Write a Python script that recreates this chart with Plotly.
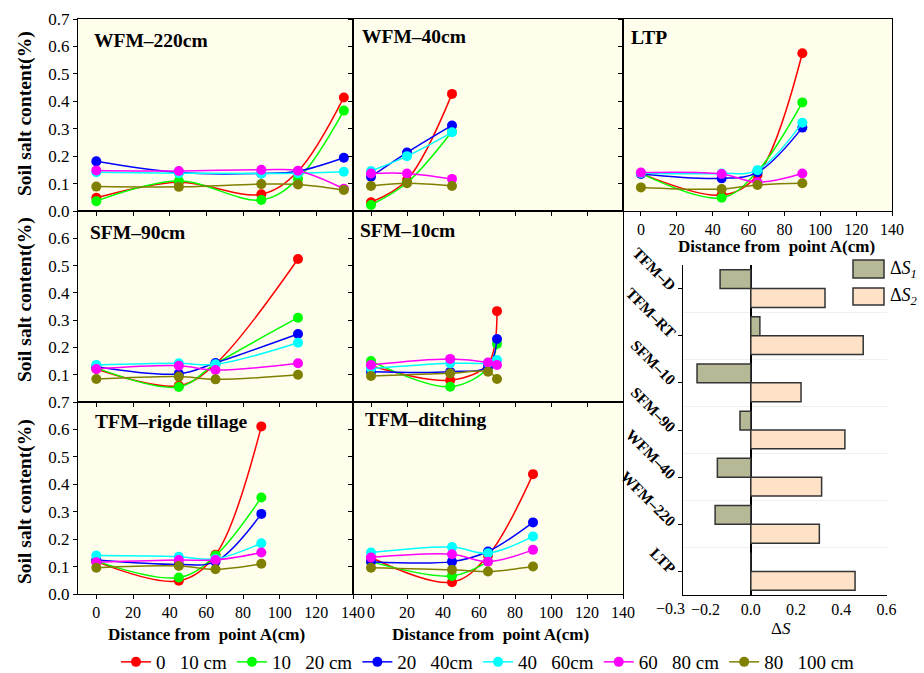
import plotly.graph_objects as go

FONT = "Liberation Serif"
W, H = 924, 673

# ---------------- data ----------------
depth_labels = ["0\u00a0\u00a0\u00a010 cm", "10\u00a0\u00a0\u00a020 cm", "20\u00a0\u00a0\u00a040cm",
                "40\u00a0\u00a0\u00a060cm", "60\u00a0\u00a0\u00a080 cm", "80\u00a0\u00a0\u00a0100 cm"]
depth_colors = ["#ff0000", "#00ff00", "#0000ff", "#00ffff", "#ff00ff", "#808000"]

wfm220_x = [0, 45, 90, 110, 135]
wfm220_d0 = [0.048, 0.105, 0.061, 0.145, 0.414]
wfm220_d1 = [0.036, 0.109, 0.040, 0.117, 0.366]
wfm220_d2 = [0.181, 0.140, 0.137, 0.145, 0.194]
wfm220_d3 = [0.141, 0.138, 0.137, 0.138, 0.143]
wfm220_d4 = [0.148, 0.146, 0.150, 0.147, 0.081]
wfm220_d5 = [0.089, 0.088, 0.098, 0.097, 0.077]

wfm40_x = [0, 20, 45]
wfm40_d0 = [0.032, 0.113, 0.427]
wfm40_d1 = [0.022, 0.103, 0.290]
wfm40_d2 = [0.125, 0.213, 0.312]
wfm40_d3 = [0.146, 0.200, 0.287]
wfm40_d4 = [0.137, 0.137, 0.117]
wfm40_d5 = [0.091, 0.101, 0.091]

ltp_x = [0, 45, 65, 90]
ltp_d0 = [0.137, 0.058, 0.131, 0.575]
ltp_d1 = [0.137, 0.048, 0.145, 0.396]
ltp_d2 = [0.135, 0.119, 0.141, 0.304]
ltp_d3 = [0.138, 0.137, 0.149, 0.322]
ltp_d4 = [0.140, 0.135, 0.105, 0.137]
ltp_d5 = [0.086, 0.080, 0.095, 0.101]

sfm90_x = [0, 45, 65, 110]
sfm90_d0 = [0.121, 0.060, 0.140, 0.524]
sfm90_d1 = [0.125, 0.055, 0.140, 0.309]
sfm90_d2 = [0.129, 0.103, 0.143, 0.249]
sfm90_d3 = [0.136, 0.142, 0.138, 0.217]
sfm90_d4 = [0.121, 0.133, 0.117, 0.142]
sfm90_d5 = [0.084, 0.093, 0.083, 0.100]

sfm10_x = [0, 44, 65, 70]
sfm10_d0 = [0.133, 0.080, 0.140, 0.333]
sfm10_d1 = [0.150, 0.056, 0.125, 0.213]
sfm10_d2 = [0.111, 0.111, 0.130, 0.231]
sfm10_d3 = [0.123, 0.142, 0.143, 0.154]
sfm10_d4 = [0.136, 0.158, 0.145, 0.136]
sfm10_d5 = [0.095, 0.105, 0.111, 0.084]

tfmrt_x = [0, 45, 65, 90]
tfmrt_d0 = [0.118, 0.048, 0.143, 0.611]
tfmrt_d1 = [0.120, 0.060, 0.140, 0.352]
tfmrt_d2 = [0.124, 0.108, 0.118, 0.292]
tfmrt_d3 = [0.140, 0.136, 0.128, 0.185]
tfmrt_d4 = [0.116, 0.124, 0.124, 0.151]
tfmrt_d5 = [0.096, 0.102, 0.090, 0.110]

tfmd_x = [0, 45, 65, 90]
tfmd_d0 = [0.133, 0.043, 0.140, 0.437]
tfmd_d1 = [0.118, 0.066, 0.118, None]
tfmd_d2 = [0.118, 0.118, 0.155, 0.261]
tfmd_d3 = [0.151, 0.171, 0.149, 0.210]
tfmd_d4 = [0.133, 0.145, 0.118, 0.161]
tfmd_d5 = [0.096, 0.088, 0.082, 0.100]

bar_categories = ["LTP", "WFM\u2013220", "WFM\u201340", "SFM\u201390", "SFM\u201310", "TFM\u2013RT", "TFM\u2013D"]
delta_s1 = [0.0, -0.158, -0.148, -0.048, -0.238, 0.040, -0.136]
delta_s2 = [0.461, 0.303, 0.313, 0.416, 0.222, 0.497, 0.328]

y_ticks = [0.0, 0.1, 0.2, 0.3, 0.4, 0.5, 0.6, 0.7]
x_ticks = [0, 20, 40, 60, 80, 100, 120, 140]
bar_x_ticks = [-0.2, 0.0, 0.2, 0.4, 0.6]
bar_x_extra_tick = -0.3

# ---------------- layout helpers ----------------
def px_x(v):
    return v / W

def px_y(v):
    return 1 - v / H

cols = [(78, 353), (353, 623), (623, 892)]
rows = [(19, 211), (211, 402), (402, 594)]

panels = [
    dict(title="WFM\u2013220cm", r=0, c=0, x=wfm220_x,
         ys=[wfm220_d0, wfm220_d1, wfm220_d2, wfm220_d3, wfm220_d4, wfm220_d5],
         tx=92, ty=40, xlab=False, yt=y_ticks),
    dict(title="WFM\u201340cm", r=0, c=1, x=wfm40_x,
         ys=[wfm40_d0, wfm40_d1, wfm40_d2, wfm40_d3, wfm40_d4, wfm40_d5],
         tx=360, ty=36, xlab=False, yt=None),
    dict(title="LTP", r=0, c=2, x=ltp_x,
         ys=[ltp_d0, ltp_d1, ltp_d2, ltp_d3, ltp_d4, ltp_d5],
         tx=629, ty=37, xlab=True, yt=None),
    dict(title="SFM\u201390cm", r=1, c=0, x=sfm90_x,
         ys=[sfm90_d0, sfm90_d1, sfm90_d2, sfm90_d3, sfm90_d4, sfm90_d5],
         tx=88, ty=232, xlab=False, yt=y_ticks[1:7]),
    dict(title="SFM\u201310cm", r=1, c=1, x=sfm10_x,
         ys=[sfm10_d0, sfm10_d1, sfm10_d2, sfm10_d3, sfm10_d4, sfm10_d5],
         tx=358, ty=230, xlab=False, yt=None),
    dict(title="TFM\u2013rigde tillage", r=2, c=0, x=tfmrt_x,
         ys=[tfmrt_d0, tfmrt_d1, tfmrt_d2, tfmrt_d3, tfmrt_d4, tfmrt_d5],
         tx=93, ty=421, xlab=True, yt=y_ticks),
    dict(title="TFM\u2013ditching", r=2, c=1, x=tfmd_x,
         ys=[tfmd_d0, tfmd_d1, tfmd_d2, tfmd_d3, tfmd_d4, tfmd_d5],
         tx=363, ty=419, xlab=True, yt=None),
]

fig = go.Figure()
layout = dict(
    width=W, height=H,
    margin=dict(l=0, r=0, t=0, b=0, pad=0, autoexpand=False),
    paper_bgcolor="white", plot_bgcolor="rgba(0,0,0,0)",
    font=dict(family=FONT, size=16, color="black"),
    barmode="overlay",
    showlegend=True,
)
shapes = []
annotations = []

for i, p in enumerate(panels):
    n = i + 1
    xa = "x" if n == 1 else f"x{n}"
    ya = "y" if n == 1 else f"y{n}"
    xkey = "xaxis" if n == 1 else f"xaxis{n}"
    ykey = "yaxis" if n == 1 else f"yaxis{n}"
    c0, c1 = cols[p["c"]]
    r0, r1 = rows[p["r"]]
    layout[xkey] = dict(
        domain=[px_x(c0), px_x(c1)], range=[-10, 140], anchor=ya,
        tickvals=x_ticks, showticklabels=p["xlab"], ticks="outside", ticklen=4,
        tickcolor="black", showline=True, mirror=True, linecolor="black", linewidth=1,
        showgrid=False, zeroline=False, tickfont=dict(size=16, family=FONT),
    )
    yt = p["yt"]
    layout[ykey] = dict(
        domain=[px_y(r1), px_y(r0)], range=[0, 0.7], anchor=xa,
        tickvals=yt if yt is not None else y_ticks,
        ticktext=[f"{v:.1f}" for v in (yt if yt is not None else y_ticks)],
        showticklabels=yt is not None, ticks="outside", ticklen=4, tickcolor="black",
        showline=True, mirror=True, linecolor="black", linewidth=1,
        showgrid=False, zeroline=False, tickfont=dict(size=17, family=FONT),
    )
    shapes.append(dict(type="rect", xref=f"{xa} domain", yref=f"{ya} domain",
                       x0=0, x1=1, y0=0, y1=1, fillcolor="#fffdeb",
                       line=dict(width=0), layer="below"))
    for k, yv in enumerate(p["ys"]):
        fig.add_trace(go.Scatter(
            x=p["x"], y=yv, xaxis=xa, yaxis=ya, mode="lines+markers",
            line=dict(color=depth_colors[k], width=1.5, shape="spline"),
            marker=dict(color=depth_colors[k], size=10),
            name=depth_labels[k], showlegend=(i == 0), legendgroup=depth_labels[k],
        ))
    annotations.append(dict(text=f"<b>{p['title']}</b>", xref="paper", yref="paper",
                            x=px_x(p["tx"]), y=px_y(p["ty"]), xanchor="left", yanchor="middle",
                            showarrow=False, font=dict(size=19.5, family=FONT)))

# y axis titles
for yc in [114, 300, 502]:
    annotations.append(dict(text="<b>Soil salt content(%)</b>", xref="paper", yref="paper",
                            x=px_x(25), y=px_y(yc), xanchor="center", yanchor="middle",
                            textangle=-90, showarrow=False, font=dict(size=19.5, family=FONT)))
# x axis titles
for xc, yc in [(206, 634), (490, 634), (776, 246)]:
    annotations.append(dict(text="<b>Distance from \u00a0point A(cm)</b>", xref="paper", yref="paper",
                            x=px_x(xc), y=px_y(yc), xanchor="center", yanchor="middle",
                            showarrow=False, font=dict(size=17, family=FONT)))

# ---------------- bar chart ----------------
bar_pos = list(range(len(bar_categories)))
fig.add_trace(go.Bar(
    y=bar_pos, x=delta_s1, orientation="h", xaxis="x8", yaxis="y8",
    offset=0, width=0.4, marker=dict(color="#b6b896", line=dict(color="#333333", width=1.5)),
    showlegend=False, name="\u0394S1",
))
fig.add_trace(go.Bar(
    y=bar_pos, x=delta_s2, orientation="h", xaxis="x8", yaxis="y8",
    offset=-0.4, width=0.4, marker=dict(color="#fde2c8", line=dict(color="#333333", width=1.5)),
    showlegend=False, name="\u0394S2",
))
layout["xaxis8"] = dict(
    domain=[px_x(683), px_x(886.5)], range=[-0.3, 0.6], anchor="y8",
    tickvals=bar_x_ticks, ticktext=[f"{v:.1f}".replace("-", "\u2212") for v in bar_x_ticks],
    tickangle=0, ticks="", showline=True, linecolor="black", linewidth=1.2, showgrid=False,
    zeroline=True, zerolinecolor="black", zerolinewidth=1.5,
    tickfont=dict(size=16, family=FONT),
)
layout["yaxis8"] = dict(
    domain=[px_y(595), px_y(265)], range=[-0.5, 6.5], anchor="x8",
    tickvals=bar_pos, ticktext=[f"<b>{c}</b>" for c in bar_categories], tickangle=45,
    ticks="outside", ticklen=4, tickcolor="black", showline=True, linecolor="black", linewidth=1.2,
    showgrid=False, zeroline=False, tickfont=dict(size=15.5, family=FONT),
    minor=dict(tick0=0.5, dtick=1, showgrid=True, gridcolor="#efefef", gridwidth=1, ticks=""),
)
# the -0.3 label sits left of the axis start in the reference
annotations.append(dict(text=f"{bar_x_extra_tick:.1f}".replace("-", "\u2212"), xref="paper", yref="paper",
                        x=px_x(670), y=px_y(608), xanchor="center", yanchor="middle",
                        showarrow=False, font=dict(size=16, family=FONT)))
annotations.append(dict(text="\u0394<i>S</i>", xref="paper", yref="paper",
                        x=px_x(781), y=px_y(628), xanchor="center", yanchor="middle",
                        showarrow=False, font=dict(size=17, family=FONT)))
# bar legend
for (yy0, yy1), col, sub in [((260, 278), "#b6b896", "1"), ((288, 305), "#fde2c8", "2")]:
    shapes.append(dict(type="rect", xref="paper", yref="paper",
                       x0=px_x(853), x1=px_x(884), y0=px_y(yy1), y1=px_y(yy0),
                       fillcolor=col, line=dict(color="#333333", width=1.5)))
    annotations.append(dict(text=f"\u0394<i>S</i><sub><i>{sub}</i></sub>", xref="paper", yref="paper",
                            x=px_x(888), y=px_y((yy0 + yy1) / 2), xanchor="left", yanchor="middle",
                            showarrow=False, font=dict(size=18, family=FONT)))

layout["legend"] = dict(orientation="h", x=px_x(488), y=px_y(662), xanchor="center", yanchor="middle",
                        font=dict(size=19, family=FONT), bgcolor="rgba(0,0,0,0)",
                        itemwidth=30, tracegroupgap=0)
layout["shapes"] = shapes
layout["annotations"] = annotations
fig.update_layout(**layout)
fig.write_html("out.html", config={"displayModeBar": False},
               post_script="document.body.style.margin='0px';document.body.style.overflow='hidden';")
